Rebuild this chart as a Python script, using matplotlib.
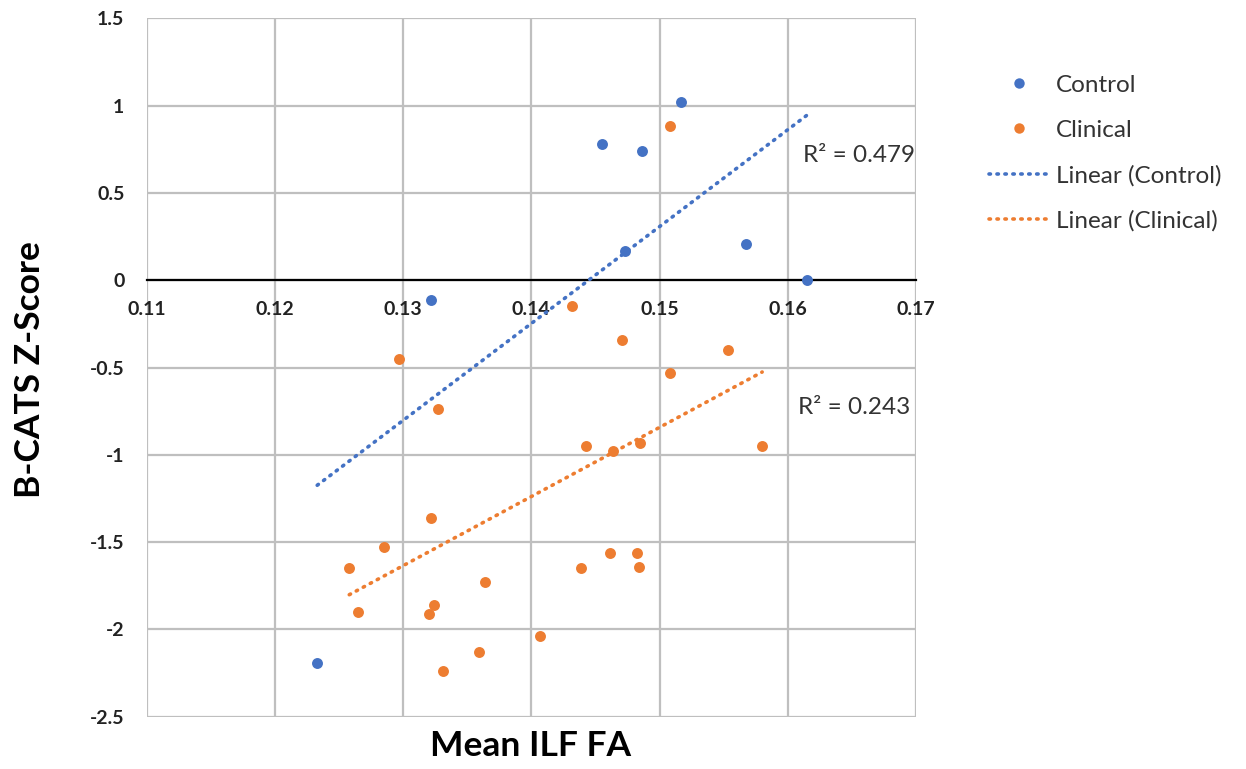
import matplotlib
matplotlib.use("Agg")
import matplotlib.pyplot as plt
from matplotlib.lines import Line2D
import numpy as np

plt.rcParams['font.family'] = ['Lato', 'DejaVu Sans']

# Control group
control_fa = [0.1322, 0.1517, 0.1455, 0.1486, 0.1473, 0.1567, 0.1615, 0.1233]
control_z = [-0.11, 1.02, 0.78, 0.74, 0.17, 0.21, 0.0, -2.19]

# Clinical group
clinical_fa = [0.1508, 0.1432, 0.1471, 0.1553, 0.1297, 0.1508, 0.1327, 0.1443,
               0.1464, 0.1485, 0.1580, 0.1322, 0.1285, 0.1258, 0.1265, 0.1324,
               0.1320, 0.1364, 0.1407, 0.1359, 0.1331, 0.1461, 0.1482, 0.1439,
               0.1484]
clinical_z = [0.885, -0.15, -0.34, -0.40, -0.45, -0.53, -0.74, -0.95,
              -0.98, -0.93, -0.95, -1.36, -1.53, -1.65, -1.90, -1.86,
              -1.91, -1.73, -2.04, -2.13, -2.24, -1.56, -1.56, -1.65,
              -1.64]

r2_labels = ["R² = 0.479", "R² = 0.243"]

BLUE = "#4472C4"
ORANGE = "#ED7D31"
GRID = "#BFBFBF"

fig = plt.figure(figsize=(12.46, 7.69), dpi=100)
ax = fig.add_axes([0.1177, 0.068, 0.6175, 0.908])

ax.set_xlim(0.11, 0.17)
ax.set_ylim(-2.5, 1.5)
ax.set_xticks(np.arange(0.11, 0.1701, 0.01))
ax.set_yticks(np.arange(-2.5, 1.51, 0.5))
ax.set_xticklabels(["0.11", "0.12", "0.13", "0.14", "0.15", "0.16", "0.17"])
ax.set_yticklabels(["-2.5", "-2", "-1.5", "-1", "-0.5", "0", "0.5", "1", "1.5"])
ax.grid(True, color=GRID, linewidth=1.6, zorder=0)
ax.set_axisbelow(True)

for s in ['top', 'right', 'left']:
    ax.spines[s].set_visible(False)
ax.spines['bottom'].set_position(('data', 0))
ax.spines['bottom'].set_color('black')
ax.spines['bottom'].set_linewidth(1.6)
ax.spines['bottom'].set_zorder(1)

ax.tick_params(axis='both', length=0, labelsize=14)
ax.tick_params(axis='x', pad=15)
ax.tick_params(axis='y', pad=16)
for lab in ax.get_xticklabels() + ax.get_yticklabels():
    lab.set_fontweight('bold')
    lab.set_color('#222222')

ax.scatter(control_fa, control_z, s=62, color=BLUE, zorder=3, linewidths=0)
ax.scatter(clinical_fa, clinical_z, s=62, color=ORANGE, zorder=3, linewidths=0)

# linear trendlines over the data range
dot = (0, (0.4, 1.8))
for xs, ys, c in [(control_fa, control_z, BLUE), (clinical_fa, clinical_z, ORANGE)]:
    xs = np.array(xs)
    m, b = np.polyfit(xs, ys, 1)
    xx = np.array([xs.min(), xs.max()])
    ax.plot(xx, m * xx + b, color=c, linewidth=2.6, linestyle=dot,
            dash_capstyle='round', zorder=2)

ax.text(0.1612, 0.717, r2_labels[0], fontsize=17.5, color='#333333', va='center', ha='left')
ax.text(0.1608, -0.728, r2_labels[1], fontsize=17.5, color='#333333', va='center', ha='left')

fig.text(0.024, 0.519, "B-CATS Z-Score", rotation=90, fontsize=25.5, fontweight='bold',
         ha='center', va='center')
fig.text(0.426, 0.030, "Mean ILF FA", fontsize=25.5, fontweight='bold',
         ha='center', va='center')

handles = [
    Line2D([], [], linestyle='none', marker='o', markersize=7.5, color=BLUE, markeredgewidth=0),
    Line2D([], [], linestyle='none', marker='o', markersize=7.5, color=ORANGE, markeredgewidth=0),
    Line2D([], [], color=BLUE, linewidth=2.6, linestyle=dot, dash_capstyle='round'),
    Line2D([], [], color=ORANGE, linewidth=2.6, linestyle=dot, dash_capstyle='round'),
]
labels = ["Control", "Clinical", "Linear (Control)", "Linear (Clinical)"]
fig.legend(handles, labels, loc='upper left', bbox_to_anchor=(0.776, 0.931),
           frameon=False, fontsize=17.5, handlelength=2.45, handletextpad=0.3,
           labelspacing=0.98, labelcolor='#333333')

fig.savefig("out.png", dpi=100)
